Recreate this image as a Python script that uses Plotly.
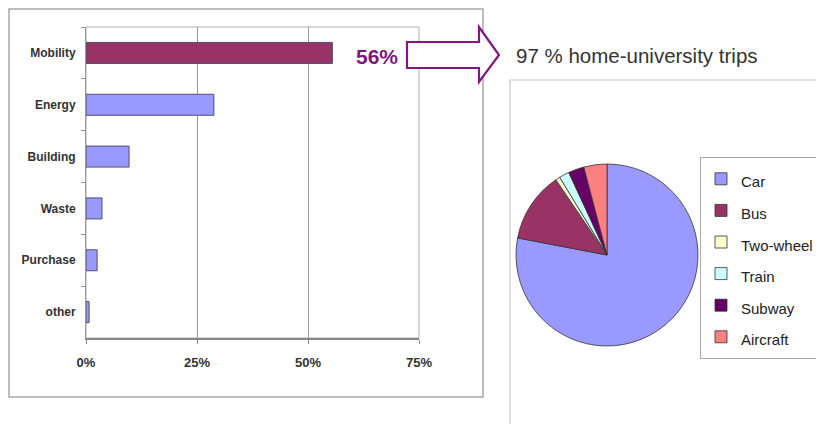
import plotly.graph_objects as go

# ---------------- data ----------------
categories = ["Mobility", "Energy", "Building", "Waste", "Purchase", "other"]
shares = [0.555, 0.288, 0.097, 0.036, 0.025, 0.007]
bar_colors = ["#993366", "#9999FF", "#9999FF", "#9999FF", "#9999FF", "#9999FF"]
x_tickvals = [0, 0.25, 0.5, 0.75]
x_ticktext = ["0%", "25%", "50%", "75%"]
highlight_label = "56%"

modes = ["Car", "Bus", "Two-wheel", "Train", "Subway", "Aircraft"]
mode_shares = [78.0, 12.5, 0.8, 1.8, 2.8, 4.1]
mode_colors = ["#9999FF", "#993366", "#FFFFCC", "#CCFFFF", "#660066", "#FF8080"]
pie_title = "97 % home-university trips"

# ---------------- layout helpers ----------------
# The page body has an 8px margin, so the figure is sized to fill the
# 824x432 window exactly without scrollbars.
OX, OY = 8, 8
W, H = 824 - 2 * OX, 432 - 2 * OY


def px(x):
    return (x - OX) / W


def py(y):
    return 1 - (y - OY) / H


SANS = "Liberation Sans, Arial, sans-serif"
PURPLE = "#7F177F"

legend_labels = [f'<span style="font-size:15px">{m}</span>' for m in modes]

fig = go.Figure()

fig.add_trace(go.Bar(
    x=shares, y=categories, orientation="h",
    marker=dict(color=bar_colors, line=dict(color="#505070", width=1)),
    showlegend=False,
    hovertemplate="%{y}: %{x:.0%}<extra></extra>",
))

fig.add_trace(go.Pie(
    labels=legend_labels, values=mode_shares,
    marker=dict(colors=mode_colors, line=dict(color="#333333", width=0.8)),
    sort=False, direction="clockwise", rotation=0,
    textinfo="none",
    domain=dict(x=[px(516), px(698)], y=[py(346), py(164)]),
    hovertemplate="%{label}: %{value}%<extra></extra>",
))

fig.update_layout(
    width=W, height=H,
    margin=dict(l=0, r=0, t=0, b=0, autoexpand=False),
    paper_bgcolor="white", plot_bgcolor="white",
    bargap=0.595,
    showlegend=True,
    legend=dict(
        x=px(700), y=py(157), xanchor="left", yanchor="top",
        font=dict(family=SANS, size=22, color="#222222"),
        bordercolor="#aaaaaa", borderwidth=1, bgcolor="white",
    ),
    xaxis=dict(
        domain=[px(86), px(419)], range=[0, 0.75],
        tickvals=x_tickvals, ticktext=x_ticktext,
        showgrid=True, gridcolor="#9a9a9a", gridwidth=1,
        showline=True, linecolor="#888888", linewidth=2,
        ticks="outside", ticklen=4, tickcolor="#888888",
        ticklabelstandoff=7, automargin=False,
        tickfont=dict(family=SANS, size=13, color="#333333", weight="bold"),
        zeroline=False, fixedrange=True,
    ),
    yaxis=dict(
        domain=[py(338), py(27)],
        categoryorder="array", categoryarray=categories, autorange="reversed",
        showline=True, linecolor="#999999", linewidth=1,
        ticks="outside", ticklen=4, tickcolor="#999999", tickson="boundaries",
        ticklabelstandoff=7, automargin=False,
        tickfont=dict(family=SANS, size=12, color="#333333", weight="bold"),
        showgrid=False, fixedrange=True,
    ),
    shapes=[
        # outer frame of the bar chart
        dict(type="rect", xref="paper", yref="paper",
             x0=px(9), y0=py(397), x1=px(483), y1=py(9),
             line=dict(color="#a8a8a8", width=1.5), layer="below"),
        # plot-area frame
        dict(type="rect", xref="x domain", yref="y domain",
             x0=0, y0=0, x1=1, y1=1,
             line=dict(color="#b0b0b0", width=1), layer="below"),
        # frame around the pie chart
        dict(type="rect", xref="paper", yref="paper",
             x0=px(510), y0=py(445), x1=px(845), y1=py(80),
             line=dict(color="#c8c8c8", width=1.2), layer="below"),
        # hollow arrow
        dict(type="path", xref="paper", yref="paper",
             path=(f"M {px(407)},{py(42)} L {px(479)},{py(42)} L {px(479)},{py(27)} "
                   f"L {px(499)},{py(55)} L {px(479)},{py(82)} L {px(479)},{py(68)} "
                   f"L {px(407)},{py(68)} Z"),
             line=dict(color=PURPLE, width=2.2), fillcolor="white", layer="above"),
    ],
    annotations=[
        dict(text=highlight_label, xref="paper", yref="paper",
             x=px(377), y=py(56), xanchor="center", yanchor="middle",
             showarrow=False,
             font=dict(family=SANS, size=21, color=PURPLE, weight="bold")),
        dict(text=pie_title, xref="paper", yref="paper",
             x=px(514), y=py(55), xanchor="left", yanchor="middle",
             showarrow=False,
             font=dict(family=SANS, size=20.5, color="#333333")),
    ],
)

fig.write_html("out.html")
